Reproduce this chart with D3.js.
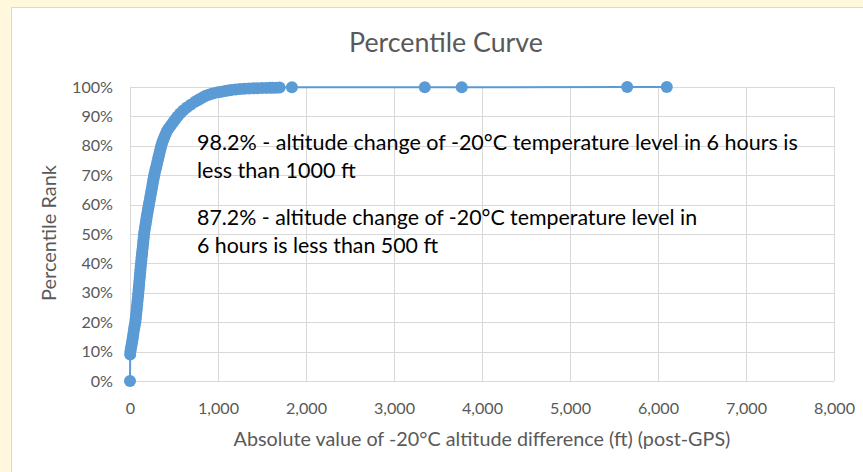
<!DOCTYPE html>
<html>
<head>
<meta charset="utf-8">
<script src="https://cdn.jsdelivr.net/npm/d3@7"></script>
<style>
  html, body { margin: 0; padding: 0; background: #FFF8DC; }
  svg { display: block; }
  text { font-family: Lato, "Open Sans", "Noto Sans", sans-serif; }
</style>
</head>
<body>
<svg id="chart" width="863" height="472"></svg>
<script>
// ---- data ----
const altitudeFt = [0, 2, 5, 10, 16, 22, 28, 33, 38, 43, 48, 54, 60, 64, 68, 71, 75, 78, 82, 85, 88, 92, 95, 98, 101, 104, 107, 110, 113, 116, 119, 122, 125, 129, 132, 136, 139, 143, 146, 150, 153, 157, 160, 165, 170, 175, 181, 186, 191, 197, 203, 209, 215, 221, 227, 233, 239, 245, 251, 257, 263, 269, 275, 283, 291, 299, 307, 315, 323, 331, 339, 347, 355, 366, 378, 391, 405, 420, 440, 465, 490, 515, 540, 570, 605, 645, 690, 740, 770, 800, 830, 860, 895, 930, 965, 1000, 1040, 1080, 1115, 1150, 1200, 1250, 1300, 1350, 1400, 1450, 1500, 1550, 1590, 1620, 1660, 1700, 1840, 3350, 3770, 5650, 6100];
const percentile = [0, 9, 10, 11, 12, 13, 14, 15, 16, 17, 18, 19, 20, 21, 22, 23, 24, 25, 26, 27, 28, 29, 30, 31, 32, 33, 34, 35, 36, 37, 38, 39, 40, 41, 42, 43, 44, 45, 46, 47, 48, 49, 50, 51, 52, 53, 54, 55, 56, 57, 58, 59, 60, 61, 62, 63, 64, 65, 66, 67, 68, 69, 70, 71, 72, 73, 74, 75, 76, 77, 78, 79, 80, 81, 82, 83, 84, 85, 86, 87, 88, 89, 90, 91, 92, 93, 94, 95, 95.5, 96, 96.5, 97, 97.4, 97.7, 98, 98.2, 98.4, 98.6, 98.8, 99, 99.15, 99.3, 99.4, 99.5, 99.55, 99.6, 99.65, 99.7, 99.72, 99.75, 99.78, 99.8, 99.9, 99.92, 99.94, 99.97, 100];
const xTicks = [0, 1000, 2000, 3000, 4000, 5000, 6000, 7000, 8000];
const yTicks = [0, 10, 20, 30, 40, 50, 60, 70, 80, 90, 100];
const titleText = "Percentile Curve";
const xTitle = "Absolute value of -20°C altitude difference (ft) (post-GPS)";
const yTitle = "Percentile Rank";
const notes = [
  "98.2% - altitude change of -20°C temperature level in 6 hours is",
  "less than 1000 ft",
  "87.2% - altitude change of -20°C temperature level in",
  "6 hours is less than 500 ft"
];

// ---- layout ----
const svg = d3.select("#chart");
const plotL = 130, plotR = 834, plotT = 87, plotB = 381;
const blue = "#5B9BD5", grid = "#D9D9D9", labelGray = "#595959";

// chart box
svg.append("rect").attr("x", 11.5).attr("y", 7.5).attr("width", 870).attr("height", 480)
  .attr("fill", "#fff").attr("stroke", grid).attr("stroke-width", 1);

const x = d3.scaleLinear().domain([0, 8000]).range([plotL, plotR]);
const y = d3.scaleLinear().domain([0, 100]).range([plotB, plotT]);

// gridlines
const gx = svg.append("g").attr("transform", `translate(0,${plotB})`)
  .call(d3.axisBottom(x).tickValues(xTicks).tickSize(-(plotB - plotT)).tickFormat(""));
const gy = svg.append("g").attr("transform", `translate(${plotL},0)`)
  .call(d3.axisLeft(y).tickValues(yTicks).tickSize(-(plotR - plotL)).tickFormat(""));
[gx, gy].forEach(g => {
  g.select(".domain").remove();
  g.selectAll(".tick line").attr("stroke", grid).attr("stroke-width", 1)
    .attr("shape-rendering", "crispEdges");
});

// helper: fit text to a width
function fit(sel, w) {
  const n = sel.node();
  const cur = parseFloat(sel.style("font-size"));
  const len = n.getComputedTextLength();
  sel.style("font-size", (cur * w / len).toFixed(2) + "px");
  return sel;
}

// tick labels
const ax = svg.append("g").attr("transform", `translate(0,${plotB})`)
  .call(d3.axisBottom(x).tickValues(xTicks).tickSize(0).tickFormat(d3.format(",")));
const ay = svg.append("g").attr("transform", `translate(${plotL},0)`)
  .call(d3.axisLeft(y).tickValues(yTicks).tickSize(0).tickPadding(17).tickFormat(d => d + "%"));
[ax, ay].forEach(g => {
  g.select(".domain").remove();
  g.selectAll("text").attr("fill", labelGray).style("font-size", "14px")
    .style("font-family", "Lato, 'Open Sans', sans-serif");
});
// size tick labels so that "100%" is as wide as in the reference
const probe = ay.selectAll("text").filter(d => d === 100);
fit(probe, 41);
const tickSize = probe.style("font-size");
ax.selectAll("text").style("font-size", tickSize).attr("y", 28).attr("dy", "0.32em");
ay.selectAll("text").style("font-size", tickSize);

// series
const pts = altitudeFt.map((v, i) => [v, percentile[i]]);
svg.append("path").datum(pts)
  .attr("fill", "none").attr("stroke", blue).attr("stroke-width", 2)
  .attr("d", d3.line().x(d => x(d[0])).y(d => y(d[1])));
svg.append("g").selectAll("circle").data(pts).join("circle")
  .attr("cx", d => x(d[0])).attr("cy", d => y(d[1])).attr("r", 6)
  .attr("fill", blue);

// title
fit(svg.append("text").attr("x", 446).attr("y", 52).attr("text-anchor", "middle")
  .attr("fill", labelGray).style("font-size", "20px").text(titleText), 194);

// axis titles
fit(svg.append("text").attr("x", 482).attr("y", 446).attr("text-anchor", "middle")
  .attr("fill", labelGray).style("font-size", "16px").text(xTitle), 497);
fit(svg.append("text").attr("transform", "translate(56,233) rotate(-90)")
  .attr("text-anchor", "middle").attr("fill", labelGray).style("font-size", "16px")
  .text(yTitle), 136);

// annotations
const noteX = 197;
const noteY = [150, 178, 225, 253];
const noteW = [601, 0, 500, 0];
let noteSize = 17;
notes.forEach((t, i) => {
  const s = svg.append("text").attr("x", noteX).attr("y", noteY[i]).attr("fill", "#000")
    .style("font-size", noteSize + "px").text(t);
  if (noteW[i]) { fit(s, noteW[i]); noteSize = parseFloat(s.style("font-size")); }
  else s.style("font-size", noteSize + "px");
});
</script>
</body>
</html>
